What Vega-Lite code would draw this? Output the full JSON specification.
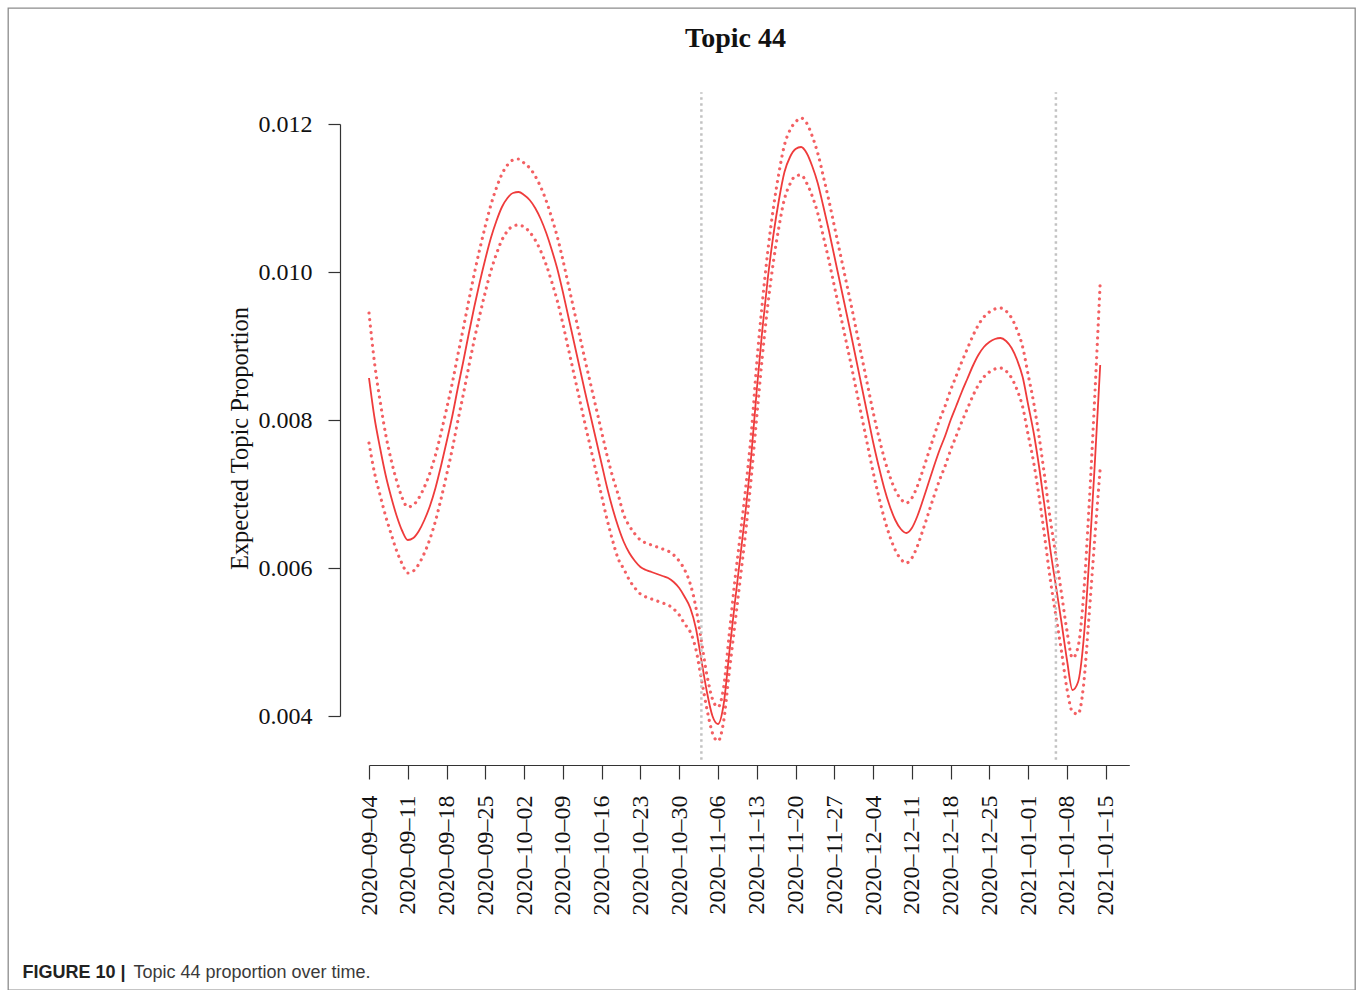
{
  "$schema": "https://vega.github.io/schema/vega-lite/v6.json",
  "width": 1347,
  "height": 982,
  "autosize": {"type": "none"},
  "padding": {"left": 8, "top": 8, "right": 3, "bottom": 0},
  "background": "white",
  "config": {
    "view": {"stroke": "#8c8c8c", "strokeWidth": 1.3},
    "axis": {"grid": false}
  },
  "datasets": {
    "curve": [
      {"date": "2020-09-04", "mean": 0.0085676, "lower": 0.0076892, "upper": 0.0094459},
      {"date": "2020-09-05", "mean": 0.0080270, "lower": 0.0072838, "upper": 0.0087703},
      {"date": "2020-09-06", "mean": 0.0076216, "lower": 0.0069865, "upper": 0.0082568},
      {"date": "2020-09-07", "mean": 0.0072568, "lower": 0.0067027, "upper": 0.0078108},
      {"date": "2020-09-08", "mean": 0.0069595, "lower": 0.0064595, "upper": 0.0074595},
      {"date": "2020-09-09", "mean": 0.0067027, "lower": 0.0062297, "upper": 0.0071757},
      {"date": "2020-09-10", "mean": 0.0065000, "lower": 0.0060541, "upper": 0.0069459},
      {"date": "2020-09-11", "mean": 0.0063784, "lower": 0.0059324, "upper": 0.0068243},
      {"date": "2020-09-12", "mean": 0.0064054, "lower": 0.0059595, "upper": 0.0068514},
      {"date": "2020-09-13", "mean": 0.0065000, "lower": 0.0060541, "upper": 0.0069459},
      {"date": "2020-09-14", "mean": 0.0066486, "lower": 0.0062027, "upper": 0.0070946},
      {"date": "2020-09-15", "mean": 0.0068378, "lower": 0.0063919, "upper": 0.0072838},
      {"date": "2020-09-16", "mean": 0.0070811, "lower": 0.0066351, "upper": 0.0075270},
      {"date": "2020-09-17", "mean": 0.0073784, "lower": 0.0069324, "upper": 0.0078243},
      {"date": "2020-09-18", "mean": 0.0077027, "lower": 0.0072568, "upper": 0.0081486},
      {"date": "2020-09-19", "mean": 0.0080405, "lower": 0.0075946, "upper": 0.0084865},
      {"date": "2020-09-20", "mean": 0.0084189, "lower": 0.0079730, "upper": 0.0088649},
      {"date": "2020-09-21", "mean": 0.0087838, "lower": 0.0083378, "upper": 0.0092297},
      {"date": "2020-09-22", "mean": 0.0091622, "lower": 0.0087162, "upper": 0.0096081},
      {"date": "2020-09-23", "mean": 0.0095270, "lower": 0.0090811, "upper": 0.0099730},
      {"date": "2020-09-24", "mean": 0.0098649, "lower": 0.0094189, "upper": 0.0103108},
      {"date": "2020-09-25", "mean": 0.0101757, "lower": 0.0097297, "upper": 0.0106216},
      {"date": "2020-09-26", "mean": 0.0104595, "lower": 0.0100135, "upper": 0.0109054},
      {"date": "2020-09-27", "mean": 0.0106892, "lower": 0.0102432, "upper": 0.0111351},
      {"date": "2020-09-28", "mean": 0.0108784, "lower": 0.0104324, "upper": 0.0113243},
      {"date": "2020-09-29", "mean": 0.0110000, "lower": 0.0105541, "upper": 0.0114459},
      {"date": "2020-09-30", "mean": 0.0110676, "lower": 0.0106216, "upper": 0.0115135},
      {"date": "2020-10-01", "mean": 0.0110811, "lower": 0.0106351, "upper": 0.0115270},
      {"date": "2020-10-02", "mean": 0.0110405, "lower": 0.0106081, "upper": 0.0114730},
      {"date": "2020-10-03", "mean": 0.0109730, "lower": 0.0105405, "upper": 0.0114054},
      {"date": "2020-10-04", "mean": 0.0108649, "lower": 0.0104324, "upper": 0.0112973},
      {"date": "2020-10-05", "mean": 0.0107162, "lower": 0.0102838, "upper": 0.0111486},
      {"date": "2020-10-06", "mean": 0.0105270, "lower": 0.0100946, "upper": 0.0109595},
      {"date": "2020-10-07", "mean": 0.0102973, "lower": 0.0098649, "upper": 0.0107297},
      {"date": "2020-10-08", "mean": 0.0100405, "lower": 0.0096081, "upper": 0.0104730},
      {"date": "2020-10-09", "mean": 0.0097297, "lower": 0.0092973, "upper": 0.0101622},
      {"date": "2020-10-10", "mean": 0.0093919, "lower": 0.0089595, "upper": 0.0098243},
      {"date": "2020-10-11", "mean": 0.0090541, "lower": 0.0086216, "upper": 0.0094865},
      {"date": "2020-10-12", "mean": 0.0087162, "lower": 0.0082838, "upper": 0.0091486},
      {"date": "2020-10-13", "mean": 0.0083784, "lower": 0.0079459, "upper": 0.0088108},
      {"date": "2020-10-14", "mean": 0.0080541, "lower": 0.0076216, "upper": 0.0084865},
      {"date": "2020-10-15", "mean": 0.0077297, "lower": 0.0072973, "upper": 0.0081622},
      {"date": "2020-10-16", "mean": 0.0074054, "lower": 0.0069730, "upper": 0.0078378},
      {"date": "2020-10-17", "mean": 0.0070811, "lower": 0.0066486, "upper": 0.0075135},
      {"date": "2020-10-18", "mean": 0.0067973, "lower": 0.0063649, "upper": 0.0072297},
      {"date": "2020-10-19", "mean": 0.0065541, "lower": 0.0061216, "upper": 0.0069865},
      {"date": "2020-10-20", "mean": 0.0063514, "lower": 0.0059865, "upper": 0.0067162},
      {"date": "2020-10-21", "mean": 0.0062027, "lower": 0.0058378, "upper": 0.0065676},
      {"date": "2020-10-22", "mean": 0.0060946, "lower": 0.0057297, "upper": 0.0064595},
      {"date": "2020-10-23", "mean": 0.0060135, "lower": 0.0056486, "upper": 0.0063784},
      {"date": "2020-10-24", "mean": 0.0059730, "lower": 0.0056081, "upper": 0.0063378},
      {"date": "2020-10-25", "mean": 0.0059459, "lower": 0.0055811, "upper": 0.0063108},
      {"date": "2020-10-26", "mean": 0.0059189, "lower": 0.0055541, "upper": 0.0062838},
      {"date": "2020-10-27", "mean": 0.0058919, "lower": 0.0055270, "upper": 0.0062568},
      {"date": "2020-10-28", "mean": 0.0058649, "lower": 0.0055000, "upper": 0.0062297},
      {"date": "2020-10-29", "mean": 0.0058108, "lower": 0.0054459, "upper": 0.0061757},
      {"date": "2020-10-30", "mean": 0.0057297, "lower": 0.0053649, "upper": 0.0060946},
      {"date": "2020-10-31", "mean": 0.0056081, "lower": 0.0052432, "upper": 0.0059730},
      {"date": "2020-11-01", "mean": 0.0054595, "lower": 0.0051351, "upper": 0.0057838},
      {"date": "2020-11-02", "mean": 0.0051892, "lower": 0.0049054, "upper": 0.0054730},
      {"date": "2020-11-03", "mean": 0.0047568, "lower": 0.0045000, "upper": 0.0050135},
      {"date": "2020-11-04", "mean": 0.0043243, "lower": 0.0040946, "upper": 0.0045541},
      {"date": "2020-11-05", "mean": 0.0040000, "lower": 0.0037703, "upper": 0.0042297},
      {"date": "2020-11-06", "mean": 0.0038919, "lower": 0.0036622, "upper": 0.0041216},
      {"date": "2020-11-07", "mean": 0.0041486, "lower": 0.0039189, "upper": 0.0043784},
      {"date": "2020-11-08", "mean": 0.0048243, "lower": 0.0045676, "upper": 0.0050811},
      {"date": "2020-11-09", "mean": 0.0055000, "lower": 0.0052027, "upper": 0.0057973},
      {"date": "2020-11-10", "mean": 0.0061351, "lower": 0.0058378, "upper": 0.0064324},
      {"date": "2020-11-11", "mean": 0.0067838, "lower": 0.0064865, "upper": 0.0070811},
      {"date": "2020-11-12", "mean": 0.0075135, "lower": 0.0072162, "upper": 0.0078108},
      {"date": "2020-11-13", "mean": 0.0084054, "lower": 0.0080405, "upper": 0.0087703},
      {"date": "2020-11-14", "mean": 0.0092162, "lower": 0.0088514, "upper": 0.0095811},
      {"date": "2020-11-15", "mean": 0.0099189, "lower": 0.0095541, "upper": 0.0102838},
      {"date": "2020-11-16", "mean": 0.0105000, "lower": 0.0101351, "upper": 0.0108649},
      {"date": "2020-11-17", "mean": 0.0109730, "lower": 0.0106081, "upper": 0.0113378},
      {"date": "2020-11-18", "mean": 0.0113514, "lower": 0.0109865, "upper": 0.0117162},
      {"date": "2020-11-19", "mean": 0.0115541, "lower": 0.0111892, "upper": 0.0119189},
      {"date": "2020-11-20", "mean": 0.0116622, "lower": 0.0112973, "upper": 0.0120270},
      {"date": "2020-11-21", "mean": 0.0116892, "lower": 0.0113108, "upper": 0.0120811},
      {"date": "2020-11-22", "mean": 0.0116081, "lower": 0.0112027, "upper": 0.0120135},
      {"date": "2020-11-23", "mean": 0.0114324, "lower": 0.0110270, "upper": 0.0118378},
      {"date": "2020-11-24", "mean": 0.0112027, "lower": 0.0107973, "upper": 0.0116081},
      {"date": "2020-11-25", "mean": 0.0108919, "lower": 0.0104865, "upper": 0.0112973},
      {"date": "2020-11-26", "mean": 0.0105676, "lower": 0.0101622, "upper": 0.0109730},
      {"date": "2020-11-27", "mean": 0.0102162, "lower": 0.0098108, "upper": 0.0106216},
      {"date": "2020-11-28", "mean": 0.0098649, "lower": 0.0094595, "upper": 0.0102703},
      {"date": "2020-11-29", "mean": 0.0095135, "lower": 0.0091081, "upper": 0.0099189},
      {"date": "2020-11-30", "mean": 0.0091622, "lower": 0.0087568, "upper": 0.0095676},
      {"date": "2020-12-01", "mean": 0.0087973, "lower": 0.0083919, "upper": 0.0092027},
      {"date": "2020-12-02", "mean": 0.0084324, "lower": 0.0080270, "upper": 0.0088378},
      {"date": "2020-12-03", "mean": 0.0080676, "lower": 0.0076622, "upper": 0.0084730},
      {"date": "2020-12-04", "mean": 0.0077027, "lower": 0.0072973, "upper": 0.0081081},
      {"date": "2020-12-05", "mean": 0.0073784, "lower": 0.0069730, "upper": 0.0077838},
      {"date": "2020-12-06", "mean": 0.0070811, "lower": 0.0066757, "upper": 0.0074865},
      {"date": "2020-12-07", "mean": 0.0068378, "lower": 0.0064324, "upper": 0.0072432},
      {"date": "2020-12-08", "mean": 0.0066486, "lower": 0.0062432, "upper": 0.0070541},
      {"date": "2020-12-09", "mean": 0.0065270, "lower": 0.0061216, "upper": 0.0069324},
      {"date": "2020-12-10", "mean": 0.0064730, "lower": 0.0060676, "upper": 0.0068784},
      {"date": "2020-12-11", "mean": 0.0065405, "lower": 0.0061351, "upper": 0.0069459},
      {"date": "2020-12-12", "mean": 0.0067027, "lower": 0.0062973, "upper": 0.0071081},
      {"date": "2020-12-13", "mean": 0.0069189, "lower": 0.0065135, "upper": 0.0073243},
      {"date": "2020-12-14", "mean": 0.0071486, "lower": 0.0067432, "upper": 0.0075541},
      {"date": "2020-12-15", "mean": 0.0073784, "lower": 0.0069730, "upper": 0.0077838},
      {"date": "2020-12-16", "mean": 0.0075946, "lower": 0.0071892, "upper": 0.0080000},
      {"date": "2020-12-17", "mean": 0.0077838, "lower": 0.0073784, "upper": 0.0081892},
      {"date": "2020-12-18", "mean": 0.0080000, "lower": 0.0075946, "upper": 0.0084054},
      {"date": "2020-12-19", "mean": 0.0081892, "lower": 0.0077838, "upper": 0.0085946},
      {"date": "2020-12-20", "mean": 0.0083784, "lower": 0.0079730, "upper": 0.0087838},
      {"date": "2020-12-21", "mean": 0.0085541, "lower": 0.0081486, "upper": 0.0089595},
      {"date": "2020-12-22", "mean": 0.0087297, "lower": 0.0083243, "upper": 0.0091351},
      {"date": "2020-12-23", "mean": 0.0088784, "lower": 0.0084730, "upper": 0.0092838},
      {"date": "2020-12-24", "mean": 0.0089865, "lower": 0.0085811, "upper": 0.0093919},
      {"date": "2020-12-25", "mean": 0.0090541, "lower": 0.0086486, "upper": 0.0094595},
      {"date": "2020-12-26", "mean": 0.0090946, "lower": 0.0086892, "upper": 0.0095000},
      {"date": "2020-12-27", "mean": 0.0091081, "lower": 0.0087027, "upper": 0.0095135},
      {"date": "2020-12-28", "mean": 0.0090676, "lower": 0.0086622, "upper": 0.0094730},
      {"date": "2020-12-29", "mean": 0.0089730, "lower": 0.0085676, "upper": 0.0093784},
      {"date": "2020-12-30", "mean": 0.0088108, "lower": 0.0084054, "upper": 0.0092162},
      {"date": "2020-12-31", "mean": 0.0085811, "lower": 0.0081757, "upper": 0.0089865},
      {"date": "2021-01-01", "mean": 0.0082027, "lower": 0.0077973, "upper": 0.0086081},
      {"date": "2021-01-02", "mean": 0.0078243, "lower": 0.0074189, "upper": 0.0082297},
      {"date": "2021-01-03", "mean": 0.0073514, "lower": 0.0069459, "upper": 0.0077568},
      {"date": "2021-01-04", "mean": 0.0068108, "lower": 0.0064054, "upper": 0.0072162},
      {"date": "2021-01-05", "mean": 0.0062432, "lower": 0.0058378, "upper": 0.0066486},
      {"date": "2021-01-06", "mean": 0.0057568, "lower": 0.0053514, "upper": 0.0061622},
      {"date": "2021-01-07", "mean": 0.0052703, "lower": 0.0048784, "upper": 0.0056622},
      {"date": "2021-01-08", "mean": 0.0047568, "lower": 0.0043649, "upper": 0.0051486},
      {"date": "2021-01-09", "mean": 0.0043514, "lower": 0.0040541, "upper": 0.0047838},
      {"date": "2021-01-10", "mean": 0.0044595, "lower": 0.0040270, "upper": 0.0049324},
      {"date": "2021-01-11", "mean": 0.0050270, "lower": 0.0044189, "upper": 0.0056351},
      {"date": "2021-01-12", "mean": 0.0061081, "lower": 0.0053649, "upper": 0.0068514},
      {"date": "2021-01-13", "mean": 0.0073784, "lower": 0.0063784, "upper": 0.0082973},
      {"date": "2021-01-14", "mean": 0.0087432, "lower": 0.0073514, "upper": 0.0098649}
    ],
    "events": [
      {"date": "2020-11-03"},
      {"date": "2021-01-06"}
    ]
  },
  "resolve": {
    "scale": {"x": "independent", "y": "independent"},
    "axis": {"x": "independent", "y": "independent"}
  },
  "layer": [
    {
      "data": {"name": "curve"},
      "encoding": {
        "x": {
          "field": "date",
          "type": "temporal",
          "scale": {
            "type": "utc",
            "domain": [
              {"year": 2020, "month": 9, "date": 4, "utc": true},
              {"year": 2021, "month": 1, "date": 19, "hours": 6, "utc": true}
            ],
            "range": [361, 1121.3]
          },
          "axis": {
            "orient": "bottom",
            "offset": -225,
            "values": [
              {"year": 2020, "month": 9, "date": 4, "utc": true},
              {"year": 2020, "month": 9, "date": 11, "utc": true},
              {"year": 2020, "month": 9, "date": 18, "utc": true},
              {"year": 2020, "month": 9, "date": 25, "utc": true},
              {"year": 2020, "month": 10, "date": 2, "utc": true},
              {"year": 2020, "month": 10, "date": 9, "utc": true},
              {"year": 2020, "month": 10, "date": 16, "utc": true},
              {"year": 2020, "month": 10, "date": 23, "utc": true},
              {"year": 2020, "month": 10, "date": 30, "utc": true},
              {"year": 2020, "month": 11, "date": 6, "utc": true},
              {"year": 2020, "month": 11, "date": 13, "utc": true},
              {"year": 2020, "month": 11, "date": 20, "utc": true},
              {"year": 2020, "month": 11, "date": 27, "utc": true},
              {"year": 2020, "month": 12, "date": 4, "utc": true},
              {"year": 2020, "month": 12, "date": 11, "utc": true},
              {"year": 2020, "month": 12, "date": 18, "utc": true},
              {"year": 2020, "month": 12, "date": 25, "utc": true},
              {"year": 2021, "month": 1, "date": 1, "utc": true},
              {"year": 2021, "month": 1, "date": 8, "utc": true},
              {"year": 2021, "month": 1, "date": 15, "utc": true}
            ],
            "labelExpr": "utcFormat(datum.value, '%Y–%m–%d')",
            "labelAngle": 270,
            "labelAlign": "right",
            "labelBaseline": "middle",
            "labelFont": "Liberation Serif",
            "labelFontSize": 24,
            "labelColor": "#111111",
            "labelPadding": 16,
            "labelOverlap": false,
            "labelFlush": false,
            "tickSize": 14,
            "tickColor": "#333333",
            "tickWidth": 1.2,
            "domainColor": "#333333",
            "domainWidth": 1.2,
            "title": "Topic 44 proportion over time.",
            "titleFont": "Liberation Sans",
            "titleFontSize": 18,
            "titleFontWeight": "normal",
            "titleColor": "#3a3a3a",
            "titleX": 125,
            "titleY": 212,
            "titleAlign": "left",
            "titleBaseline": "alphabetic",
            "titleAngle": 0
          }
        }
      },
      "layer": [
        {
          "mark": {"type": "line", "interpolate": "monotone", "stroke": "#f24f52", "strokeWidth": 3.2, "strokeDash": [0.01, 6.5], "strokeCap": "round", "opacity": 0.9},
          "encoding": {
            "y": {
              "field": "upper",
              "type": "quantitative",
              "scale": {"domain": [0.004, 0.012], "range": [708, 116], "zero": false, "nice": false},
              "axis": {
                "orient": "left", "offset": -332, "values": [0.004, 0.006, 0.008, 0.010, 0.012], "format": ".3f",
                "labelFont": "Liberation Serif", "labelFontSize": 24, "labelColor": "#111111", "labelPadding": 16,
                "labelOverlap": false, "labelFlush": false, "tickSize": 12, "tickColor": "#333333", "tickWidth": 1.2,
                "domainColor": "#333333", "domainWidth": 1.2,
                "title": "Expected Topic Proportion", "titleFont": "Liberation Serif", "titleFontSize": 24.5,
                "titleFontWeight": "normal", "titleColor": "#111111", "titleX": -100, "titleY": 430,
                "titleAngle": 270, "titleAlign": "center", "titleBaseline": "middle"
              }
            }
          }
        },
        {
          "mark": {"type": "line", "interpolate": "monotone", "stroke": "#f24f52", "strokeWidth": 3.2, "strokeDash": [0.01, 6.5], "strokeCap": "round", "opacity": 0.9},
          "encoding": {
            "y": {
              "field": "lower",
              "type": "quantitative",
              "scale": {"domain": [0.004, 0.012], "range": [708, 116], "zero": false, "nice": false},
              "axis": {
                "orient": "left", "offset": -332, "values": [0.004, 0.006, 0.008, 0.010, 0.012], "format": ".3f",
                "labelFont": "Liberation Serif", "labelFontSize": 24, "labelColor": "#111111", "labelPadding": 16,
                "labelOverlap": false, "labelFlush": false, "tickSize": 12, "tickColor": "#333333", "tickWidth": 1.2,
                "domainColor": "#333333", "domainWidth": 1.2,
                "title": "Expected Topic Proportion", "titleFont": "Liberation Serif", "titleFontSize": 24.5,
                "titleFontWeight": "normal", "titleColor": "#111111", "titleX": -100, "titleY": 430,
                "titleAngle": 270, "titleAlign": "center", "titleBaseline": "middle"
              }
            }
          }
        },
        {
          "mark": {"type": "line", "interpolate": "monotone", "stroke": "#ef3b3b", "strokeWidth": 1.8},
          "encoding": {
            "y": {
              "field": "mean",
              "type": "quantitative",
              "scale": {"domain": [0.004, 0.012], "range": [708, 116], "zero": false, "nice": false},
              "axis": {
                "orient": "left", "offset": -332, "values": [0.004, 0.006, 0.008, 0.010, 0.012], "format": ".3f",
                "labelFont": "Liberation Serif", "labelFontSize": 24, "labelColor": "#111111", "labelPadding": 16,
                "labelOverlap": false, "labelFlush": false, "tickSize": 12, "tickColor": "#333333", "tickWidth": 1.2,
                "domainColor": "#333333", "domainWidth": 1.2,
                "title": "Expected Topic Proportion", "titleFont": "Liberation Serif", "titleFontSize": 24.5,
                "titleFontWeight": "normal", "titleColor": "#111111", "titleX": -100, "titleY": 430,
                "titleAngle": 270, "titleAlign": "center", "titleBaseline": "middle"
              }
            }
          }
        }
      ]
    },
    {
      "data": {"name": "events"},
      "mark": {"type": "rule", "stroke": "#c2c2c2", "strokeWidth": 2.5, "strokeDash": [2.5, 3.5]},
      "encoding": {
        "x": {
          "field": "date",
          "type": "temporal",
          "scale": {
            "type": "utc",
            "domain": [
              {"year": 2020, "month": 9, "date": 4, "utc": true},
              {"year": 2021, "month": 1, "date": 19, "hours": 6, "utc": true}
            ],
            "range": [361, 1121.3]
          },
          "axis": {
            "orient": "top",
            "labels": false,
            "ticks": false,
            "domain": false,
            "title": "Topic 44",
            "titleFont": "Liberation Serif",
            "titleFontSize": 28,
            "titleFontWeight": "bold",
            "titleColor": "#111111",
            "titleX": 727,
            "titleY": 30,
            "titleAlign": "center",
            "titleBaseline": "middle",
            "titleAngle": 0
          }
        },
        "y": {
          "datum": 0.00341,
          "type": "quantitative",
          "scale": {"domain": [0.004, 0.012], "range": [708, 116], "zero": false, "nice": false},
          "axis": {
            "orient": "right",
            "labels": false,
            "ticks": false,
            "domain": false,
            "title": "FIGURE 10 |",
            "titleFont": "Liberation Sans",
            "titleFontSize": 18,
            "titleFontWeight": "bold",
            "titleColor": "#222222",
            "titleX": -1333,
            "titleY": 969,
            "titleAlign": "left",
            "titleBaseline": "alphabetic",
            "titleAngle": 0
          }
        },
        "y2": {"datum": 0.01243}
      }
    }
  ]
}
